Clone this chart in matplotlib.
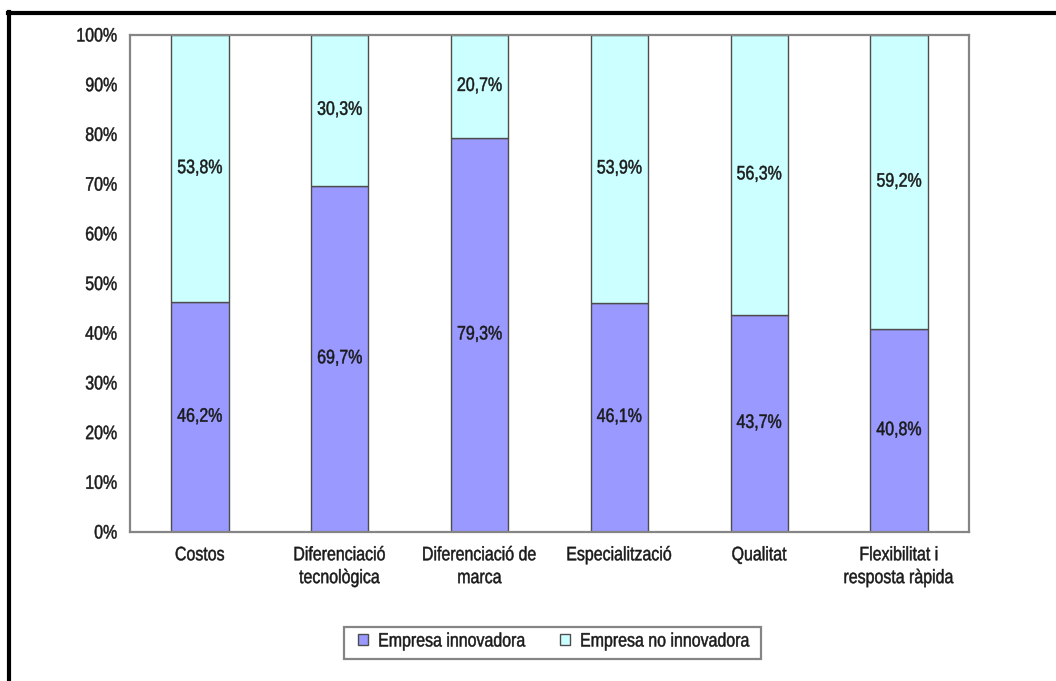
import matplotlib
matplotlib.use("Agg")
import matplotlib.pyplot as plt
from matplotlib.ticker import PercentFormatter
from matplotlib.patches import Rectangle
from matplotlib.lines import Line2D
from matplotlib.patheffects import AbstractPathEffect
from matplotlib.transforms import Affine2D

plt.rcParams['font.family'] = ['Liberation Sans', 'DejaVu Sans']

categories = ["Costos", "Diferenciació\ntecnològica", "Diferenciació de\nmarca",
              "Especialització", "Qualitat", "Flexibilitat i\nresposta ràpida"]
innovadora = [46.2, 69.7, 79.3, 46.1, 43.7, 40.8]
no_innovadora = [53.8, 30.3, 20.7, 53.9, 56.3, 59.2]
series_names = ["Empresa innovadora", "Empresa no innovadora"]
y_ticks = [0, 10, 20, 30, 40, 50, 60, 70, 80, 90, 100]

col_inn = "#9999FF"
col_no = "#CCFFFF"
edge = "#4d4d4d"
txt = "#1a1a1a"
W, H = 1056, 681


class Narrow(AbstractPathEffect):
    """Draw text glyph outlines horizontally condensed (a narrow face)."""

    def __init__(self, sx=0.82, anchor="center", stroke=0.35):
        super().__init__()
        self.sx = sx
        self.anchor = anchor
        self.stroke = stroke

    def draw_path(self, renderer, gc, tpath, affine, rgbFace=None):
        ext = tpath.get_extents()
        if self.anchor == "right":
            cx = ext.x1
        elif self.anchor == "left":
            cx = ext.x0
        else:
            cx = (ext.x0 + ext.x1) / 2
        t = Affine2D().translate(-cx, 0).scale(self.sx, 1).translate(cx, 0) + affine
        gc0 = renderer.new_gc()
        gc0.copy_properties(gc)
        gc0.set_linewidth(self.stroke)
        renderer.draw_path(gc0, tpath, t, rgbFace)
        gc0.restore()


fig = plt.figure(figsize=(W / 100, H / 100), dpi=100)
ax = fig.add_axes([130 / W, 1 - 532 / H, 839 / W, 497 / H])

x = list(range(len(categories)))
w = 0.41
ax.bar(x, innovadora, width=w, color=col_inn, edgecolor=edge, linewidth=1.0,
       label=series_names[0])
ax.bar(x, no_innovadora, width=w, bottom=innovadora, color=col_no, edgecolor=edge,
       linewidth=1.0, label=series_names[1])

fs = 14
for xi, a, b in zip(x, innovadora, no_innovadora):
    for yv, v in ((a / 2, a), (a + b / 2, b)):
        t = ax.text(xi, yv, f"{v:.1f}%".replace(".", ","), ha="center", va="center",
                    fontsize=fs, color=txt)
        t.set_path_effects([Narrow()])

ax.set_xlim(-0.5, len(categories) - 0.5)
ax.set_ylim(0, 100)
ax.set_yticks(y_ticks)
ax.yaxis.set_major_formatter(PercentFormatter(decimals=0))
ax.set_xticks(x)
ax.set_xticklabels(categories, fontsize=fs, linespacing=1.45)
ax.tick_params(axis="both", length=0, labelsize=fs, colors=txt)
ax.tick_params(axis="y", pad=9)
ax.tick_params(axis="x", pad=11)
for lab in ax.get_yticklabels():
    lab.set_path_effects([Narrow(anchor="right")])
for lab in ax.get_xticklabels():
    lab.set_path_effects([Narrow()])
for s in ax.spines.values():
    s.set_color("#858585")
    s.set_linewidth(1.6)

# legend entries, with a frame drawn to fit the narrow text
handles = [Rectangle((0, 0), 1, 1, facecolor=col_inn, edgecolor=edge),
           Rectangle((0, 0), 1, 1, facecolor=col_no, edgecolor=edge)]
leg = fig.legend(handles, series_names, loc="center left",
                 bbox_to_anchor=(358 / W, 1 - 642 / H),
                 ncol=2, fontsize=fs, frameon=False, handlelength=0.52,
                 handleheight=0.52, handletextpad=0.5, columnspacing=0.05, borderpad=0.0,
                 borderaxespad=0.0)
for t in leg.get_texts():
    t.set_color(txt)
    t.set_path_effects([Narrow(anchor="left")])
fig.add_artist(Rectangle((344 / W, 1 - 659 / H), 417 / W, 32 / H, transform=fig.transFigure,
                         facecolor="none", edgecolor="#858585", linewidth=1.6))

# outer frame on the left and top
fig.add_artist(Line2D([9 / W, 9 / W], [0, 1 - 12 / H], transform=fig.transFigure,
                      color="black", linewidth=3))
fig.add_artist(Line2D([8 / W, 1], [1 - 13 / H, 1 - 13 / H], transform=fig.transFigure,
                      color="black", linewidth=3))

fig.savefig("out.png", dpi=100)
